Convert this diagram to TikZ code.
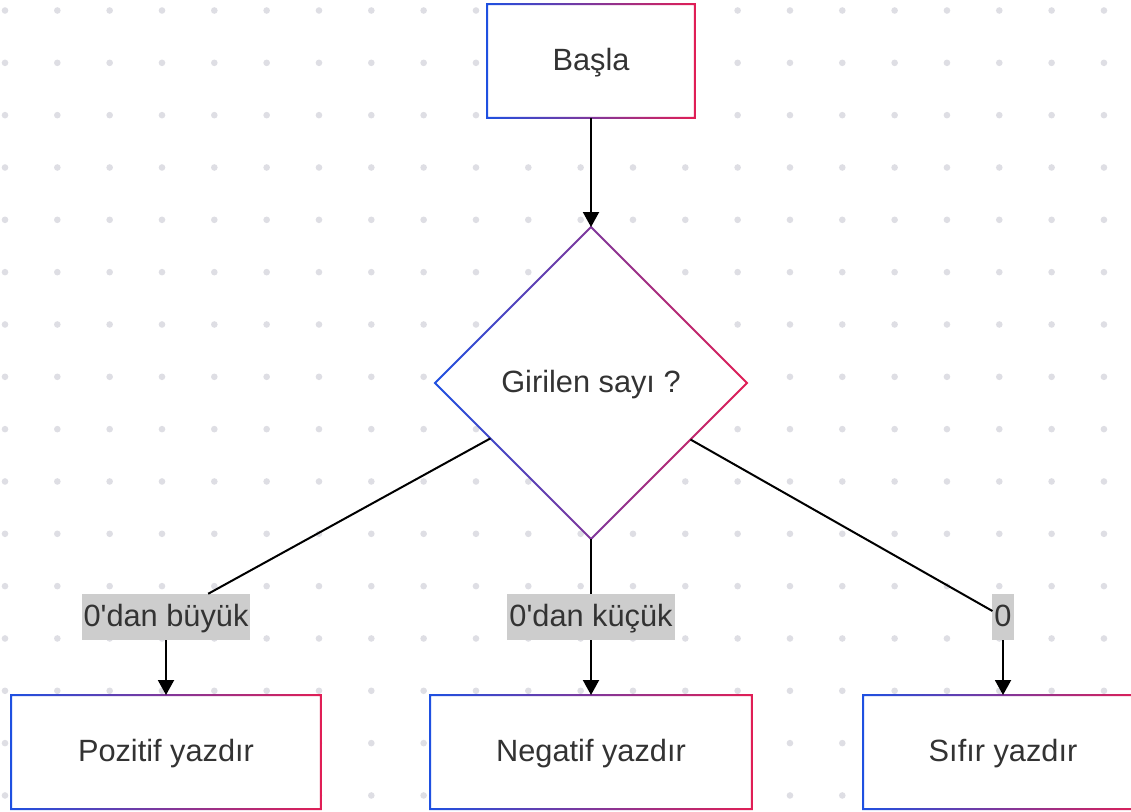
\documentclass[tikz,border=0pt]{standalone}
\usepackage{fontspec}
\setmainfont{Liberation Sans}
\usetikzlibrary{shapes.geometric,arrows.meta}
\definecolor{cblue}{RGB}{30,80,225}
\definecolor{cred}{RGB}{225,30,85}
\definecolor{cdot}{RGB}{222,222,228}
\definecolor{clabel}{RGB}{205,205,205}
\definecolor{ctext}{RGB}{51,51,51}
\tikzset{
	txt/.style={text=ctext, font=\fontsize{17.5}{20}\selectfont, text height=0.52cm, text depth=0.13cm},
	box/.style={rectangle, fill=white, outer sep=0pt, minimum height=2.28cm, txt},
	decision/.style={diamond, aspect=1, fill=white, outer sep=0pt, minimum width=6.24cm, minimum height=6.24cm, txt},
	edgelabel/.style={rectangle, fill=clabel, inner xsep=0.04cm, inner ysep=0pt, minimum height=0.93cm, outer sep=0pt, txt},
	link/.style={line width=0.04cm, black},
	arrow/.style={link, -{Triangle[length=0.3cm, width=0.32cm]}},
}
% gradient border of a box node
\newcommand{\gradbox}[1]{%
	\shade[even odd rule, left color=cblue, right color=cred]
		([shift={(-0.02cm,-0.02cm)}]#1.south west) rectangle ([shift={(0.02cm,0.02cm)}]#1.north east)
		([shift={(0.02cm,0.02cm)}]#1.south west) rectangle ([shift={(-0.02cm,-0.02cm)}]#1.north east);}
% gradient border of a diamond node
\newcommand{\graddia}[1]{%
	\shade[even odd rule, left color=cblue, right color=cred]
		([yshift=0.028cm]#1.north) -- ([xshift=0.028cm]#1.east) -- ([yshift=-0.028cm]#1.south) -- ([xshift=-0.028cm]#1.west) -- cycle
		([yshift=-0.028cm]#1.north) -- ([xshift=-0.028cm]#1.east) -- ([yshift=0.028cm]#1.south) -- ([xshift=0.028cm]#1.west) -- cycle;}
\begin{document}
\begin{tikzpicture}[x=0.02cm, y=-0.02cm]
	\useasboundingbox[fill=white] (0, 0) rectangle (1131, 811);
	\foreach \i in {0,...,21}
		\foreach \j in {0,...,15}
			\fill[cdot] (5+52.33*\i, 10.5+52.33*\j) circle (3.3); % dot grid
	\node[box, minimum width=4.16cm] (start) at (591, 61) {Başla};
	\node[decision] (dia) at (591, 383) {Girilen sayı ?};
	\node[edgelabel] (lblpos) at (166, 617) {0\textquotesingle dan büyük};
	\node[edgelabel] (lblneg) at (591, 617) {0\textquotesingle dan küçük};
	\node[edgelabel] (lblzero) at (1003, 617) {0};
	\node[box, minimum width=6.2cm] (pos) at (166, 752) {Pozitif yazdır};
	\node[box, minimum width=6.44cm] (neg) at (591, 752) {Negatif yazdır};
	\node[box, minimum width=5.6cm] (zero) at (1003, 752) {Sıfır yazdır};
	\gradbox{start} \gradbox{pos} \gradbox{neg} \gradbox{zero}
	\graddia{dia}
	\draw[arrow] (start) -- (dia);
	\draw[link] (dia) -- (lblpos);
	\draw[arrow] (lblpos) -- (pos);
	\draw[link] (dia) -- (lblneg);
	\draw[arrow] (lblneg) -- (neg);
	\draw[link] (dia) -- (lblzero);
	\draw[arrow] (lblzero) -- (zero);
\end{tikzpicture}
\end{document}
